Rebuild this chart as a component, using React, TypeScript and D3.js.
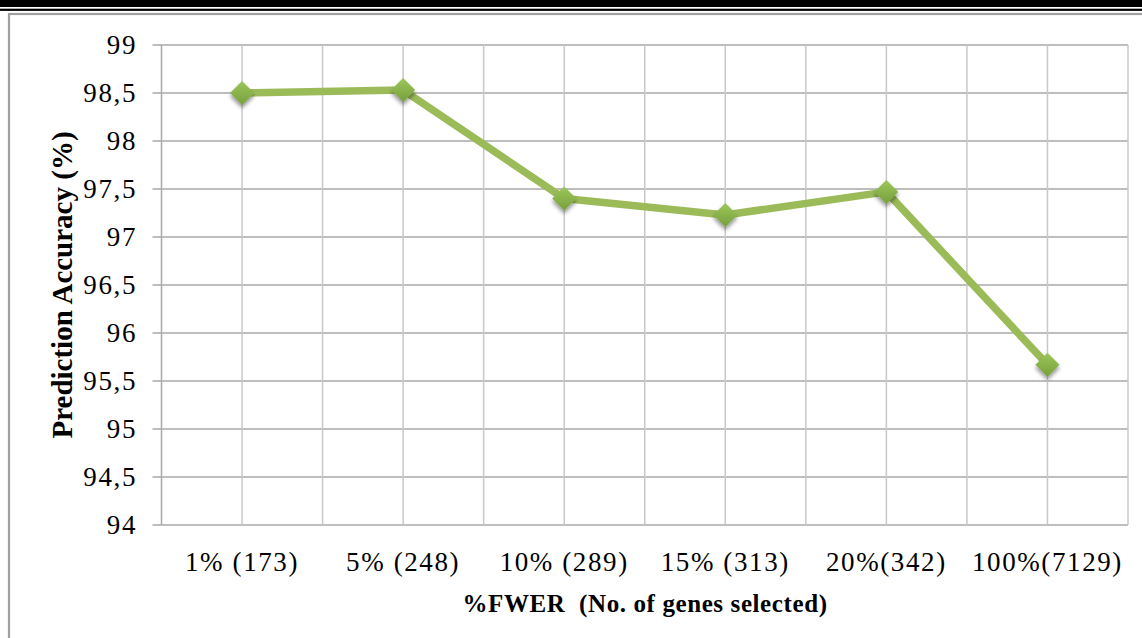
import React from "react";
import * as d3 from "d3";

const categories = ["1% (173)", "5% (248)", "10% (289)", "15% (313)", "20%(342)", "100%(7129)"];
const accuracy = [98.5, 98.53, 97.4, 97.23, 97.47, 95.67];
const yTicks = [94, 94.5, 95, 95.5, 96, 96.5, 97, 97.5, 98, 98.5, 99];

const W = 1142;
const H = 638;
const plot = { left: 161.5, right: 1128, top: 45, bottom: 525 };
const serif = "'Liberation Serif', 'Times New Roman', serif";

export default function App() {
  const x = d3
    .scaleBand<string>()
    .domain(categories)
    .range([plot.left, plot.right])
    .paddingInner(0)
    .paddingOuter(0);
  const y = d3.scaleLinear().domain([94, 99]).range([plot.bottom, plot.top]);
  const cx = (c: string) => (x(c) as number) + x.bandwidth() / 2;

  // vertical grid: category boundaries plus category centres
  const vLines: number[] = [];
  categories.forEach((c) => {
    vLines.push(x(c) as number);
    vLines.push(cx(c));
  });
  vLines.push(plot.right);

  const line = d3
    .line<number>()
    .x((_, i) => cx(categories[i]))
    .y((d) => y(d));

  const fmt = (v: number) => String(v).replace(".", ",");
  const m = 12;

  return (
    <svg width={W} height={H} style={{ position: "absolute", left: 0, top: 0 }}>
      <defs>
        <linearGradient id="mk" x1="0" y1="0" x2="0" y2="1">
          <stop offset="0%" stopColor="#9cc75a" />
          <stop offset="100%" stopColor="#789f3c" />
        </linearGradient>
        <filter id="shadow" x="-50%" y="-50%" width="200%" height="200%">
          <feGaussianBlur in="SourceAlpha" stdDeviation="2.2" />
          <feOffset dx="0" dy="3" result="b" />
          <feComponentTransfer>
            <feFuncA type="linear" slope="0.45" />
          </feComponentTransfer>
          <feMerge>
            <feMergeNode />
            <feMergeNode in="SourceGraphic" />
          </feMerge>
        </filter>
      </defs>
      <rect x={0} y={0} width={W} height={H} fill="#fff" />
      {/* page header rules */}
      <rect x={0} y={0} width={W} height={7} fill="#000" />
      <rect x={0} y={8.7} width={W} height={2.2} fill="#000" />
      {/* chart frame */}
      <rect x={9} y={14} width={W + 20} height={H + 20} fill="none" stroke="#a0a0a0" strokeWidth={2.2} />

      {/* horizontal grid */}
      {yTicks.map((t) => (
        <line key={t} x1={plot.left - 9} x2={plot.right} y1={y(t)} y2={y(t)} stroke="#a8a8a8" strokeWidth={1.6} />
      ))}
      {vLines.map((v, i) => (
        <line key={i} x1={v} x2={v} y1={plot.top} y2={plot.bottom} stroke={i === 0 ? "#a8a8a8" : "#c8c8c8"} strokeWidth={1.5} />
      ))}

      {/* y tick labels */}
      {yTicks.map((t) => (
        <text key={t} x={137} y={y(t)} dy="0.34em" textAnchor="end" fontFamily={serif} fontSize={27} letterSpacing={1.6} fill="#000">
          {fmt(t)}
        </text>
      ))}

      {/* x tick labels */}
      {categories.map((c) => (
        <text key={c} x={cx(c)} y={571} textAnchor="middle" fontFamily={serif} fontSize={27} letterSpacing={1.6} fill="#000">
          {c}
        </text>
      ))}

      {/* axis titles */}
      <text x={645} y={612} textAnchor="middle" fontFamily={serif} fontSize={25} fontWeight="bold" letterSpacing={0.6} fill="#000" style={{ whiteSpace: "pre" }}>
        %FWER  (No. of genes selected)
      </text>
      <text
        transform={`translate(72,285) rotate(-90)`}
        textAnchor="middle"
        fontFamily={serif}
        fontSize={29}
        fontWeight="bold"
        fill="#000"
      >
        Prediction Accuracy (%)
      </text>

      {/* series */}
      <path d={line(accuracy) || ""} fill="none" stroke="#9bbb59" strokeWidth={7.5} strokeLinejoin="round" />
      {accuracy.map((v, i) => {
        const px = cx(categories[i]);
        const py = y(v);
        return (
          <path
            key={i}
            d={`M${px},${py - m}L${px + m},${py}L${px},${py + m}L${px - m},${py}Z`}
            fill="url(#mk)"
            filter="url(#shadow)"
          />
        );
      })}
    </svg>
  );
}
